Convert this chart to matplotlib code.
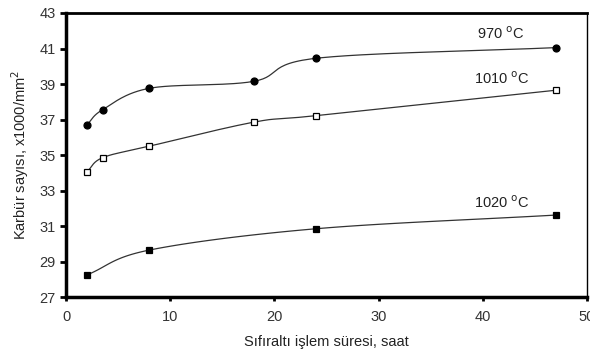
import numpy as np
import matplotlib
matplotlib.use('Agg')
import matplotlib.pyplot as plt

plt.rcParams['font.family'] = ['Liberation Sans', 'DejaVu Sans']

# data
x_970 = [2, 3.5, 8, 18, 24, 47]
y_970 = [36.7, 37.55, 38.76, 39.15, 40.45, 41.05]
x_1010 = [2, 3.5, 8, 18, 24, 47]
y_1010 = [34.05, 34.85, 35.5, 36.85, 37.22, 38.65]
x_1020 = [2, 8, 24, 47]
y_1020 = [28.25, 29.65, 30.85, 31.62]

labels = ['970 $^{\\mathrm{o}}$C', '1010 $^{\\mathrm{o}}$C', '1020 $^{\\mathrm{o}}$C']
label_pos = [(41.7, 41.85), (41.8, 39.3), (41.8, 32.3)]


def smooth(xs, ys, n=30):
    # catmull-rom style curve through the points (like excel smoothed lines)
    xs = np.asarray(xs, float)
    ys = np.asarray(ys, float)
    px = np.concatenate(([2 * xs[0] - xs[1]], xs, [2 * xs[-1] - xs[-2]]))
    py = np.concatenate(([2 * ys[0] - ys[1]], ys, [2 * ys[-1] - ys[-2]]))
    ox, oy = [], []
    for i in range(1, len(px) - 2):
        p0x, p1x, p2x, p3x = px[i - 1:i + 3]
        p0y, p1y, p2y, p3y = py[i - 1:i + 3]
        # bezier control points
        c1x = p1x + (p2x - p0x) / 6
        c1y = p1y + (p2y - p0y) / 6
        c2x = p2x - (p3x - p1x) / 6
        c2y = p2y - (p3y - p1y) / 6
        t = np.linspace(0, 1, n)
        bx = (1 - t)**3 * p1x + 3 * (1 - t)**2 * t * c1x + 3 * (1 - t) * t**2 * c2x + t**3 * p2x
        by = (1 - t)**3 * p1y + 3 * (1 - t)**2 * t * c1y + 3 * (1 - t) * t**2 * c2y + t**3 * p2y
        ox.extend(bx)
        oy.extend(by)
    return np.array(ox), np.array(oy)


fig = plt.figure(figsize=(5.9, 3.61), dpi=100)
ax = fig.add_axes([0.112, 0.177, 0.883, 0.787])

for xs, ys, mk, mfc in [(x_970, y_970, 'o', 'black'),
                        (x_1010, y_1010, 's', 'white'),
                        (x_1020, y_1020, 's', 'black')]:
    sx, sy = smooth(xs, ys)
    ax.plot(sx, sy, color='#333333', lw=0.9)
    ax.plot(xs, ys, linestyle='none', marker=mk, markersize=5,
            markerfacecolor=mfc, markeredgecolor='black', markeredgewidth=0.9)

for lab, (lx, ly) in zip(labels, label_pos):
    ax.text(lx, ly, lab, fontsize=10.5, ha='center', va='center', color='#222222')

ax.set_xlim(0, 50)
ax.set_ylim(27, 43)
ax.set_xticks([0, 10, 20, 30, 40, 50])
ax.set_yticks(np.arange(27, 44, 2))
ax.tick_params(axis='both', labelsize=10.5, colors='black', labelcolor='#333333')
ax.tick_params(axis='y', direction='out', length=4, width=2)
ax.tick_params(axis='x', direction='out', length=3, width=2, pad=6)

ax.spines['left'].set_linewidth(2.5)
ax.spines['bottom'].set_linewidth(2.5)
ax.spines['top'].set_linewidth(2)
ax.spines['right'].set_linewidth(1)

ax.set_xlabel('Sıfıraltı işlem süresi, saat', fontsize=10.5, color='#222222', labelpad=8)
ax.set_ylabel('Karbür sayısı, x1000/mm$^{2}$', fontsize=10.5, color='#222222', labelpad=6)

fig.savefig('out.png', dpi=100)
